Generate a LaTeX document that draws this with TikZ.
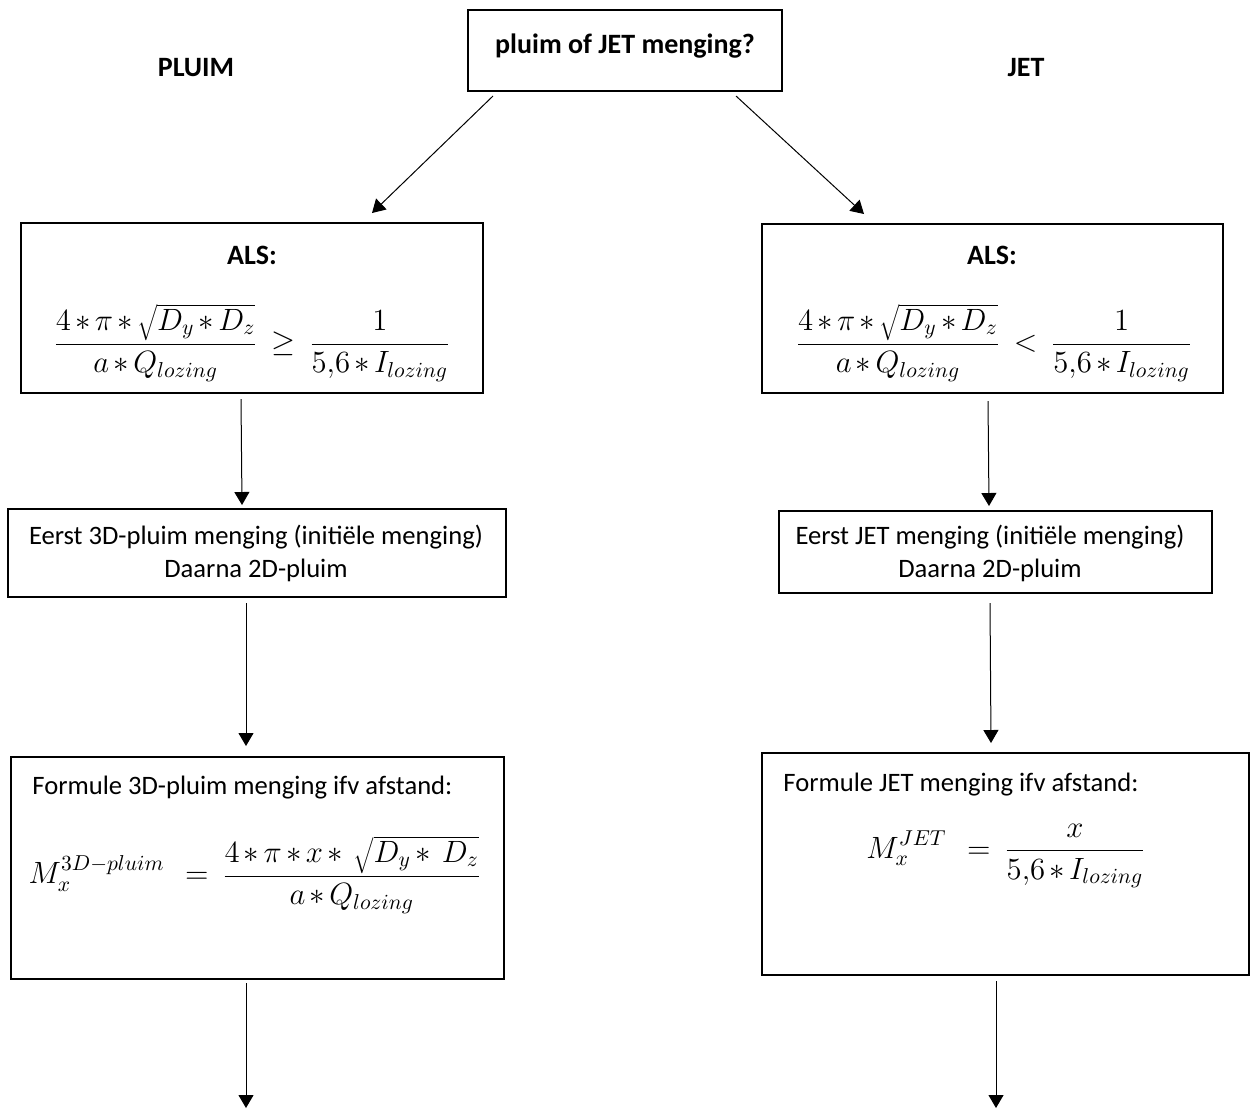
\RequirePackage{fix-cm}
\documentclass[tikz,border=0pt]{standalone}
\usepackage{fontspec}
\setmainfont{Carlito}
\usetikzlibrary{arrows.meta}
\newcommand{\mspacing}{\medmuskip=2.5mu\relax\thickmuskip=4mu\relax}
\begin{document}
\begin{tikzpicture}[x=0.5pt,y=-0.5pt,
  box/.style={draw, line width=0.7pt, inner sep=0pt},
  arr/.style={line width=0.5pt, -{Triangle[length=6.5pt,width=7.5pt]}},
  hd/.style={font=\fontsize{14}{17}\selectfont\bfseries, inner sep=0pt},
  bd/.style={font=\fontsize{13.3}{16.5}\selectfont, inner sep=0pt, align=center},
  mth/.style={font=\fontsize{15.4}{18}\selectfont\mspacing, inner sep=0pt}]
\useasboundingbox (0,0) rectangle (1251,1110);
% boxes
\node[box, minimum width=157pt, minimum height=40.5pt] (top) at (625,50.5) {};
\node[box, minimum width=231pt, minimum height=85pt] (alsL) at (252,308) {};
\node[box, minimum width=230.5pt, minimum height=84.5pt] (alsR) at (992.5,308.5) {};
\node[box, minimum width=249pt, minimum height=44pt] (eerstL) at (257,553) {};
\node[box, minimum width=216.5pt, minimum height=41pt] (eerstR) at (995.5,552) {};
\node[box, minimum width=246.5pt, minimum height=111pt] (formL) at (257.5,868) {};
\node[box, minimum width=243.5pt, minimum height=111pt] (formR) at (1005.5,864) {};
% texts
\node[hd] (ttop) at (625,46) {pluim of JET menging?};
\node[hd] (pluim) at (196,68) {PLUIM};
\node[hd] (jet) at (1026,68) {JET};
\node[hd] (alsLt) at (252,255) {ALS:};
\node[hd] (alsRt) at (992,255) {ALS:};
\node[mth] (alsLf) at (252,343) {$\displaystyle \frac{4\ast\pi\ast\sqrt{D_y\ast D_z}}{a\ast Q_{lozing}}\;\geq\;\frac{1}{5{,}6\ast I_{lozing}}$};
\node[mth] (alsRf) at (994,343) {$\displaystyle \frac{4\ast\pi\ast\sqrt{D_y\ast D_z}}{a\ast Q_{lozing}}\;<\;\frac{1}{5{,}6\ast I_{lozing}}$};
\node[bd] (eerstLt) at (256,553) {Eerst 3D-pluim menging (initiële menging)\\Daarna 2D-pluim};
\node[bd] (eerstRt) at (990,553) {Eerst JET menging (initiële menging)\\Daarna 2D-pluim};
\node[bd, anchor=west] (formLt) at (32,788) {Formule 3D-pluim menging ifv afstand:};
\node[bd, anchor=west] (formRt) at (783,785) {Formule JET menging ifv afstand:};
\node[mth] (formLf) at (255,875) {$\displaystyle M_x^{3D-pluim}\;\;=\;\frac{4\ast\pi\ast x\ast\;\sqrt{D_y\ast\; D_z}}{a\ast Q_{lozing}}$};
\node[mth] (formRf) at (1006,856) {$\displaystyle M_x^{JET}\;\;=\;\frac{x}{5{,}6\ast I_{lozing}}$};
% connector ends
\coordinate (a1s) at (493,96);   \coordinate (a1e) at (372,213);
\coordinate (a2s) at (736,96);   \coordinate (a2e) at (864,214);
\coordinate (b1s) at (241,399);  \coordinate (b1e) at (242,505);
\coordinate (b2s) at (988,401);  \coordinate (b2e) at (989,506);
\coordinate (c1s) at (246,603);  \coordinate (c1e) at (246,746);
\coordinate (c2s) at (990,603);  \coordinate (c2e) at (991,743);
\coordinate (d1s) at (246,983);  \coordinate (d1e) at (246,1108);
\coordinate (d2s) at (996,981);  \coordinate (d2e) at (996,1108);
\draw[arr] (a1s) -- (a1e);
\draw[arr] (a2s) -- (a2e);
\draw[arr] (b1s) -- (b1e);
\draw[arr] (b2s) -- (b2e);
\draw[arr] (c1s) -- (c1e);
\draw[arr] (c2s) -- (c2e);
\draw[arr] (d1s) -- (d1e);
\draw[arr] (d2s) -- (d2e);
\end{tikzpicture}
\end{document}
